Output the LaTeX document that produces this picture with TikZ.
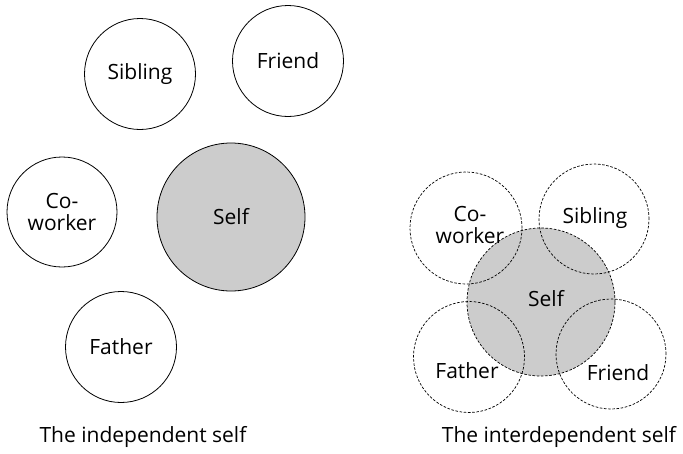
\documentclass[tikz,border=0pt]{standalone}
\usepackage{fontspec}
\setmainfont{Open Sans}
\begin{document}
\begin{tikzpicture}[x=1pt,y=-1pt,
  person/.style={circle,draw=black,line width=0.8pt,fill=white,inner sep=0pt,align=center,font=\fontsize{21}{22}\selectfont},
  linked/.style={circle,draw=black,line width=0.7pt,dash pattern=on 2.6pt off 1.6pt,inner sep=0pt},
  selfcirc/.style={circle,draw=black,fill=selfgray,inner sep=0pt},
  lbl/.style={align=center,font=\fontsize{21}{22}\selectfont,inner sep=0pt},
  captext/.style={font=\fontsize{21}{22}\selectfont,inner sep=0pt}]
\definecolor{selfgray}{RGB}{204,204,204}
\useasboundingbox (0,0) rectangle (683,453);
% independent
\node[person,minimum size=111pt] (sib) at (140,74) {Sibling};
\node[person,minimum size=111pt] (fri) at (288,61) {Friend};
\node[person,minimum size=110pt] (cow) at (62,212) {Co-\\worker};
\node[person,minimum size=148pt,fill=selfgray] (self) at (231,217) {Self};
\node[person,minimum size=111pt] (fat) at (121,347) {Father};
\node[captext] (capA) at (143,437) {The independent self};
% interdependent
\node[selfcirc,minimum size=148pt,draw=none] (self2) at (541,302) {};
\node[linked,minimum size=112pt] (cow2) at (466,228) {};
\node[linked,minimum size=110pt] (sib2) at (594,219) {};
\node[linked,minimum size=111pt] (fat2) at (469,357) {};
\node[linked,minimum size=110pt] (fri2) at (611,354) {};
\node[linked,minimum size=148pt] (self2b) at (541,302) {};
\node[lbl] (tcow2) at (470,225) {Co-\\worker};
\node[lbl] (tsib2) at (595,218) {Sibling};
\node[lbl] (tself2) at (546,299) {Self};
\node[lbl] (tfat2) at (467,371) {Father};
\node[lbl] (tfri2) at (618,373) {Friend};
\node[captext] (capB) at (559,437) {The interdependent self};
\end{tikzpicture}
\end{document}
